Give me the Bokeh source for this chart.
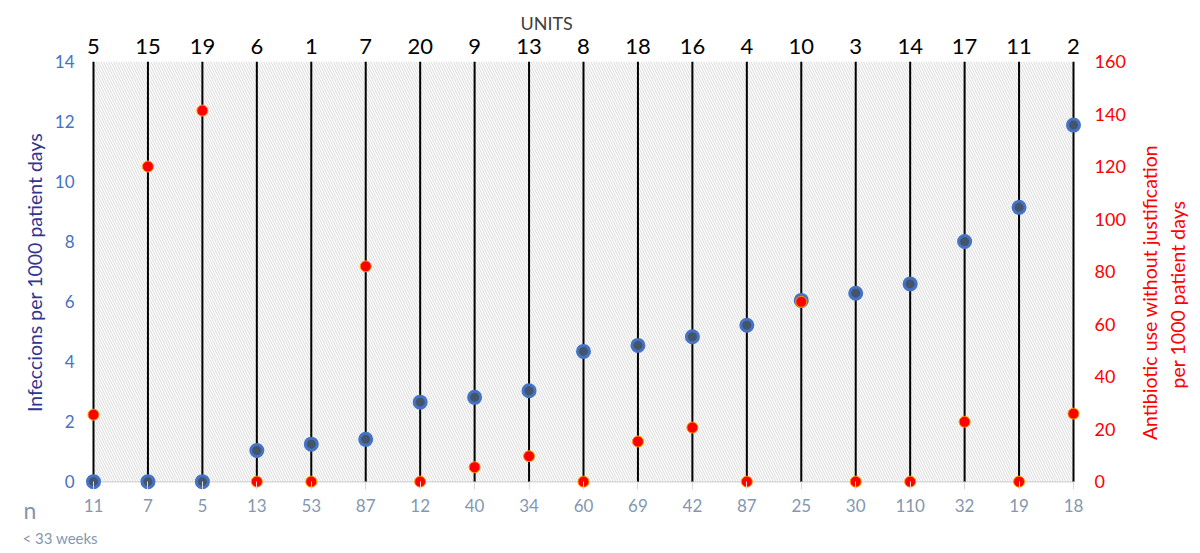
import math
from bokeh.plotting import figure
from bokeh.layouts import row, column
from bokeh.models import Range1d, LinearAxis, BoxAnnotation, Label, FixedTicker, Title
from bokeh.embed import file_html
from bokeh.resources import INLINE

# ---------------- data ----------------
n_labels = ["11", "7", "5", "13", "53", "87", "12", "40", "34", "60",
            "69", "42", "87", "25", "30", "110", "32", "19", "18"]
unit_labels = ["5", "15", "19", "6", "1", "7", "20", "9", "13", "8",
               "18", "16", "4", "10", "3", "14", "17", "11", "2"]
infections = [0, 0, 0, 1.04, 1.25, 1.41, 2.65, 2.81, 3.03, 4.34,
              4.54, 4.83, 5.21, 6.04, 6.28, 6.59, 8.0, 9.14, 11.88]
antibiotic = [25.5, 120.0, 141.3, 0, 0, 82.0, 0, 5.5, 9.7, 0,
              15.3, 20.6, 0, 68.5, 0, 0, 22.8, 0, 25.9]
left_ticks = [0, 2, 4, 6, 8, 10, 12, 14]
right_ticks = [0, 20, 40, 60, 80, 100, 120, 140, 160]

left_title = "Infeccions per 1000 patient days"
right_title_1 = "Antibiotic use without justification"
right_title_2 = "per 1000 patient days"
top_title = "UNITS"
n_title = "n"
n_subtitle = "< 33 weeks"

FONT = "Lato"
idx = list(range(len(n_labels)))
X_MIN, X_MAX = 0, len(n_labels) - 1
Y_MIN, Y_MAX = left_ticks[0], left_ticks[-1]
R_MIN, R_MAX = right_ticks[0], right_ticks[-1]

# ---------------- geometry (pixels) ----------------
TOTAL_W, TOTAL_H = 1192, 550
LEFT_W = 48
RIGHT_W = 62
TOP_H = 527
BOT_H = TOTAL_H - TOP_H
MAIN_W = TOTAL_W - LEFT_W - RIGHT_W

PAD = 8
INNER_W = 980.0
INNER_H = 429.0
inner_left = 93 - LEFT_W
inner_top = 61
frame_left = inner_left - PAD
frame_right = inner_left + INNER_W + PAD
frame_top = inner_top
frame_bottom = inner_top + INNER_H + PAD

x_pad = (X_MAX - X_MIN) * PAD / INNER_W
y_pad = (Y_MAX - Y_MIN) * PAD / INNER_H
r_pad = y_pad * (R_MAX - R_MIN) / (Y_MAX - Y_MIN)


def blank(w, h):
    f = figure(width=w, height=h, title=None,
               output_backend="svg", toolbar_location=None,
               x_range=Range1d(0, w), y_range=Range1d(0, h),
               min_border=0, x_axis_location=None, y_axis_location=None)
    f.outline_line_color = None
    f.background_fill_color = "white"
    f.border_fill_color = "white"
    f.grid.visible = False
    return f


def canvas_label(x, y, text, **kw):
    return Label(x=x, y=y, x_units="canvas", y_units="canvas", text=text,
                 text_font=FONT, **kw)


# ---------------- main plot ----------------
p = figure(width=MAIN_W, height=TOP_H, output_backend="svg", toolbar_location=None,
           x_range=Range1d(X_MIN - x_pad, X_MAX + x_pad),
           y_range=Range1d(Y_MIN - y_pad, Y_MAX),
           min_border_left=int(frame_left), min_border_right=int(MAIN_W - frame_right),
           min_border_top=int(frame_top), min_border_bottom=int(TOP_H - frame_bottom),
           x_axis_location=None, y_axis_location=None)
p.extra_y_ranges = {"right": Range1d(R_MIN - r_pad, R_MAX)}
p.outline_line_color = None
p.background_fill_color = "white"
p.border_fill_color = "white"
p.xgrid.visible = False
p.ygrid.visible = False

# "UNITS" as the plot title (above the top axis)
p.title.text = top_title
p.title.align = "left"
p.title.offset = 435
p.title.standoff = 4
p.title.text_font = FONT
p.title.text_font_size = "18px"
p.title.text_font_style = "normal"
p.title.text_color = "#404040"

# hatched plot area
p.add_layout(BoxAnnotation(left=X_MIN, right=X_MAX, bottom=Y_MIN, top=Y_MAX,
                           fill_alpha=0, line_color=None,
                           hatch_pattern="left_diagonal_line", hatch_color="#d9d9d9",
                           hatch_scale=5, hatch_weight=1, level="underlay"))

# left axis
ly = LinearAxis(ticker=FixedTicker(ticks=left_ticks))
ly.axis_line_color = None
ly.major_tick_line_color = None
ly.minor_tick_line_color = None
ly.major_tick_out = 0
ly.major_label_standoff = 11
ly.major_label_text_color = "#4472C4"
ly.major_label_text_font = FONT
ly.major_label_text_font_size = "17px"
p.add_layout(ly, "left")

# right axis
ry = LinearAxis(y_range_name="right", ticker=FixedTicker(ticks=right_ticks))
ry.axis_line_color = None
ry.major_tick_line_color = None
ry.minor_tick_line_color = None
ry.major_tick_out = 0
ry.major_label_standoff = 13
ry.major_label_text_color = "#FF0000"
ry.major_label_text_font = FONT
ry.major_label_text_font_size = "18px"
p.add_layout(ry, "right")

# bottom axis (n)
bx = LinearAxis(ticker=FixedTicker(ticks=idx),
                major_label_overrides={i: n_labels[i] for i in idx})
bx.axis_line_color = None
bx.minor_tick_line_color = None
bx.major_tick_line_color = "#D9D9D9"
bx.major_tick_out = 0
bx.major_tick_in = PAD
bx.major_label_standoff = 9
bx.major_label_text_color = "#8497B0"
bx.major_label_text_font = FONT
bx.major_label_text_font_size = "17px"
p.add_layout(bx, "below")

# top axis (units)
tx = LinearAxis(ticker=FixedTicker(ticks=idx),
                major_label_overrides={i: unit_labels[i] for i in idx})
tx.axis_line_color = None
tx.minor_tick_line_color = None
tx.major_tick_line_color = None
tx.major_tick_out = 0
tx.major_tick_in = 0
tx.major_label_standoff = 8
tx.major_label_text_color = "black"
tx.major_label_text_font = FONT
tx.major_label_text_font_size = "22px"
p.add_layout(tx, "above")

# baseline at zero
p.segment(x0=[X_MIN], y0=[Y_MIN], x1=[X_MAX], y1=[Y_MIN],
          line_color="#D9D9D9", line_width=1.5)

# vertical drop lines
p.segment(x0=idx, y0=[Y_MIN] * len(idx), x1=idx, y1=[Y_MAX] * len(idx),
          line_color="black", line_width=2)

# series
p.scatter(idx, infections, size=12, fill_color="#44546A",
          line_color="#4472C4", line_width=3)
p.scatter(idx, antibiotic, y_range_name="right", size=11, fill_color="#FF0000",
          line_color="#FF9900", line_width=1)

# ---------------- side strips carrying the outer texts ----------------
pl = blank(LEFT_W, TOP_H)
pl.add_layout(canvas_label(34, 272, left_title, angle=math.pi / 2,
                           text_align="center", text_baseline="middle",
                           text_color="#2F3590", text_font_size="19.5px"))
pl.add_layout(Title(text=n_title, align="left", offset=23, standoff=8,
                    vertical_align="bottom", text_font=FONT, text_font_size="23px",
                    text_font_style="normal", text_color="#8497B0"), "below")

pr = blank(RIGHT_W, TOP_H)
pr.add_layout(canvas_label(19, 292, right_title_1, angle=math.pi / 2,
                           text_align="center", text_baseline="middle",
                           text_color="#FF0000", text_font_size="19.5px"))
pr.add_layout(canvas_label(47, 294, right_title_2, angle=math.pi / 2,
                           text_align="center", text_baseline="middle",
                           text_color="#FF0000", text_font_size="19.5px"))

pb = blank(TOTAL_W, BOT_H)
pb.add_layout(Title(text=n_subtitle, align="left", offset=22, standoff=2,
                    vertical_align="top", text_font=FONT, text_font_size="15px",
                    text_font_style="normal", text_color="#8497B0"), "above")

layout = column(row(pl, p, pr, spacing=0), pb, spacing=0)

open("out.html", "w").write(file_html(layout, INLINE))
